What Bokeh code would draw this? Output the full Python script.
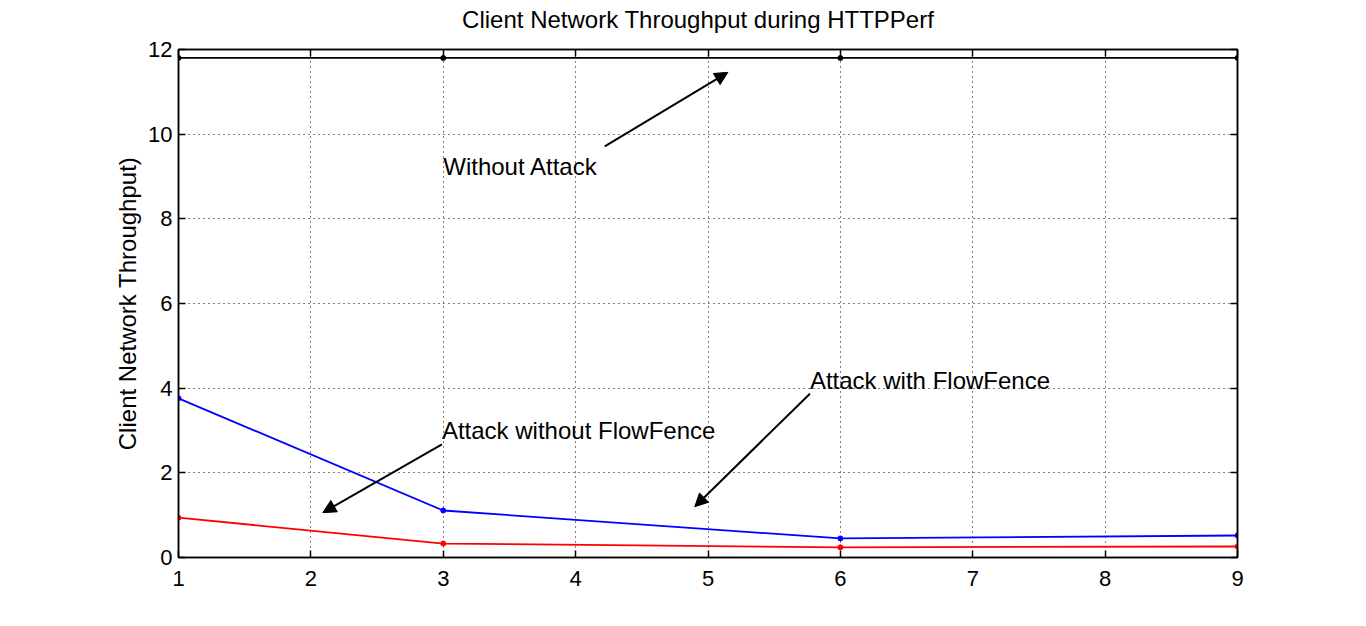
from bokeh.plotting import figure
from bokeh.layouts import column
from bokeh.models import Range1d, LinearAxis, FixedTicker, Arrow, NormalHead, Label, Div
from bokeh.embed import file_html
from bokeh.resources import INLINE

x_vals = [1, 3, 6, 9]
without_attack = [11.8, 11.8, 11.8, 11.8]
with_flowfence = [3.76, 1.11, 0.45, 0.52]
without_flowfence = [0.94, 0.33, 0.24, 0.26]

x_ticks = [1, 2, 3, 4, 5, 6, 7, 8, 9]
y_ticks = [0, 2, 4, 6, 8, 10, 12]

TITLE = "Client Network Throughput during HTTPPerf"
FONT = "Liberation Sans"

title_div = Div(text='<span style="position:relative;left:23px;top:3px">' + TITLE + '</span>',
                width=1350, height=33, margin=0,
                styles={"text-align": "center", "font-family": FONT, "font-size": "24px",
                        "line-height": "33px", "color": "black", "width": "1350px"})

p = figure(width=1350, height=577, output_backend="svg", toolbar_location=None,
           x_range=Range1d(1, 9), y_range=Range1d(0, 12),
           min_border_left=178, min_border_right=113, min_border_top=16, min_border_bottom=53)
p.outline_line_color = "black"
p.outline_line_width = 1.5
p.background_fill_color = "white"
p.border_fill_color = "white"

for ax in [p.xaxis[0], p.yaxis[0]]:
    ax.major_tick_in = 7
    ax.major_tick_out = 0
    ax.minor_tick_line_color = None
    ax.axis_line_width = 1.5
    ax.major_tick_line_width = 1.5
    ax.major_label_text_font = FONT
    ax.major_label_text_font_size = "22px"
    ax.major_label_text_color = "black"
p.xaxis[0].ticker = FixedTicker(ticks=x_ticks)
p.yaxis[0].ticker = FixedTicker(ticks=y_ticks)
p.xaxis[0].major_label_standoff = 13
p.yaxis[0].major_label_standoff = 6
p.yaxis[0].axis_label = "Client Network Throughput)"
p.yaxis[0].axis_label_text_font = FONT
p.yaxis[0].axis_label_text_font_size = "24px"
p.yaxis[0].axis_label_text_font_style = "normal"
p.yaxis[0].axis_label_text_color = "black"
p.yaxis[0].axis_label_standoff = 4

for loc, tk in [("right", y_ticks), ("above", x_ticks)]:
    ax = LinearAxis(ticker=FixedTicker(ticks=tk))
    ax.major_tick_in = 7
    ax.major_tick_out = 0
    ax.minor_tick_line_color = None
    ax.axis_line_width = 1.5
    ax.major_tick_line_width = 1.5
    ax.major_label_standoff = 0
    ax.major_label_text_font_size = "0px"
    ax.major_label_text_color = None
    p.add_layout(ax, loc)

p.grid.grid_line_color = "black"
p.grid.grid_line_dash = "1 4"
p.grid.grid_line_width = 1
p.xgrid.ticker = FixedTicker(ticks=x_ticks)
p.ygrid.ticker = FixedTicker(ticks=y_ticks)

for ys, col in [(without_attack, "black"), (with_flowfence, "blue"), (without_flowfence, "red")]:
    p.line(x_vals, ys, line_color=col, line_width=1.8)
    p.scatter(x_vals, ys, size=5, color=col)

arrows = [
    (4.22, 9.71, 5.15, 11.46),
    (2.99, 2.67, 2.09, 1.06),
    (5.77, 3.87, 4.90, 1.20),
]
for x0, y0, x1, y1 in arrows:
    p.add_layout(Arrow(x_start=x0, y_start=y0, x_end=x1, y_end=y1,
                       line_color="black", line_width=2,
                       end=NormalHead(size=13, fill_color="black", line_color="black")))

labels = [
    (3.0, 9.24, "Without Attack"),
    (2.99, 3.0, "Attack without FlowFence"),
    (5.77, 4.18, "Attack with FlowFence"),
]
for lx, ly, t in labels:
    p.add_layout(Label(x=lx, y=ly, text=t, text_font=FONT, text_font_size="24px",
                       text_baseline="middle", text_align="left", text_color="black"))

layout = column(title_div, p, spacing=0)
open("out.html", "w").write(file_html(layout, INLINE))
